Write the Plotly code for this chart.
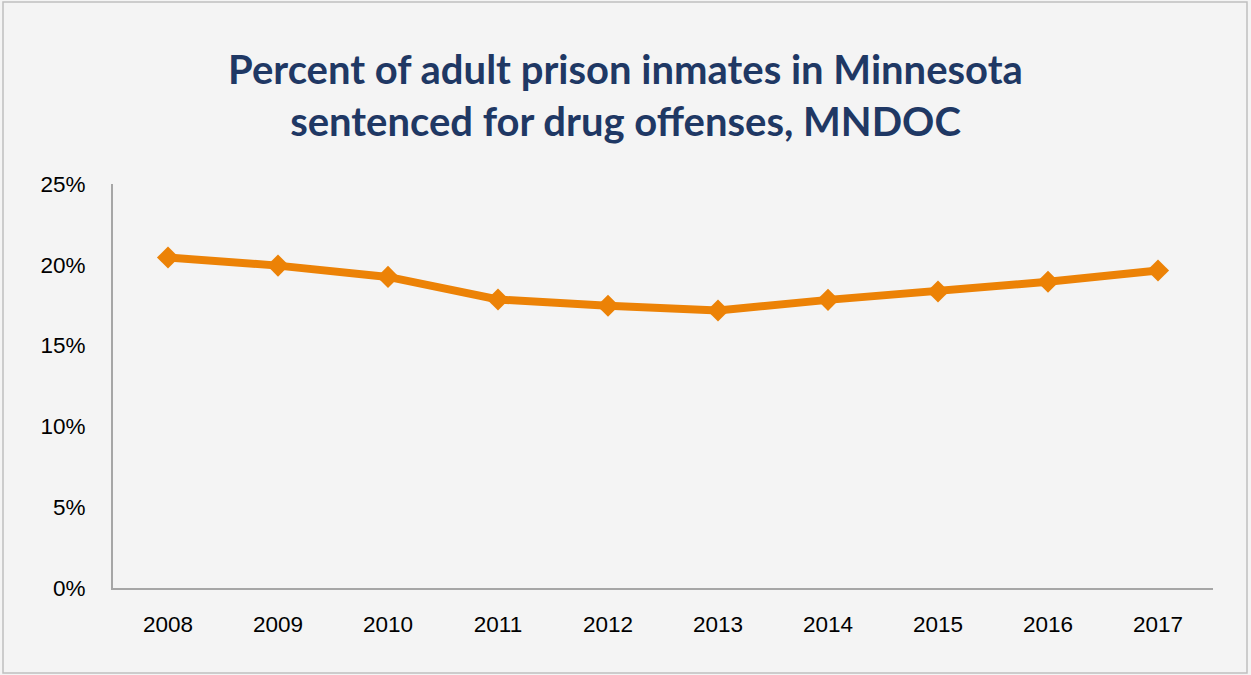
import plotly.graph_objects as go

# Share of adult prison inmates sentenced for drug offenses (MNDOC)
years = ["2008", "2009", "2010", "2011", "2012", "2013", "2014", "2015", "2016", "2017"]
pct_drug = [20.45, 19.95, 19.25, 17.85, 17.47, 17.17, 17.83, 18.35, 18.95, 19.65]
y_ticks = [0, 5, 10, 15, 20, 25]
y_tick_text = ["0%", "5%", "10%", "15%", "20%", "25%"]

ORANGE = "#EC8206"
NAVY = "#1F3864"
AXIS_GRAY = "#A6A6A6"
BG = "#F4F4F4"

fig = go.Figure(
    go.Scatter(
        x=years,
        y=pct_drug,
        mode="lines+markers",
        line=dict(color=ORANGE, width=8),
        marker=dict(symbol="diamond", size=17, color=ORANGE),
        hoverinfo="x+y",
    )
)

fig.update_layout(
    width=1251,
    height=675,
    margin=dict(l=113, r=38, t=184, b=87),
    paper_bgcolor=BG,
    plot_bgcolor=BG,
    showlegend=False,
    title=dict(
        text="Percent of adult prison inmates in Minnesota<br>sentenced for drug offenses, MNDOC",
        x=0.5,
        xref="container",
        xanchor="center",
        y=0.876,
        yref="container",
        yanchor="middle",
        font=dict(family="Lato", size=40, color=NAVY, weight="bold"),
    ),
    font=dict(family="Liberation Sans", size=22, color="#000000"),
)

fig.update_xaxes(
    type="category",
    range=[-0.5, 9.5],
    showline=True,
    linecolor=AXIS_GRAY,
    linewidth=2,
    showgrid=False,
    zeroline=False,
    ticks="",
    ticklabelstandoff=15,
    tickfont=dict(family="Liberation Sans", size=22.5, color="#000000"),
)

fig.update_yaxes(
    range=[0, 25],
    tickvals=y_ticks,
    ticktext=y_tick_text,
    showline=True,
    linecolor=AXIS_GRAY,
    linewidth=2,
    showgrid=False,
    zeroline=False,
    ticks="",
    ticklabelstandoff=21,
    tickfont=dict(family="Liberation Sans", size=22.5, color="#000000"),
)

# Thin frame around the whole chart area
fig.add_shape(
    type="rect",
    xref="paper",
    yref="paper",
    x0=-0.1,
    x1=1.0309,
    y0=-0.2104,
    y1=1.4505,
    line=dict(color="#BFBFBF", width=1.5),
    fillcolor="rgba(0,0,0,0)",
    layer="below",
)

fig.write_html("out.html")
